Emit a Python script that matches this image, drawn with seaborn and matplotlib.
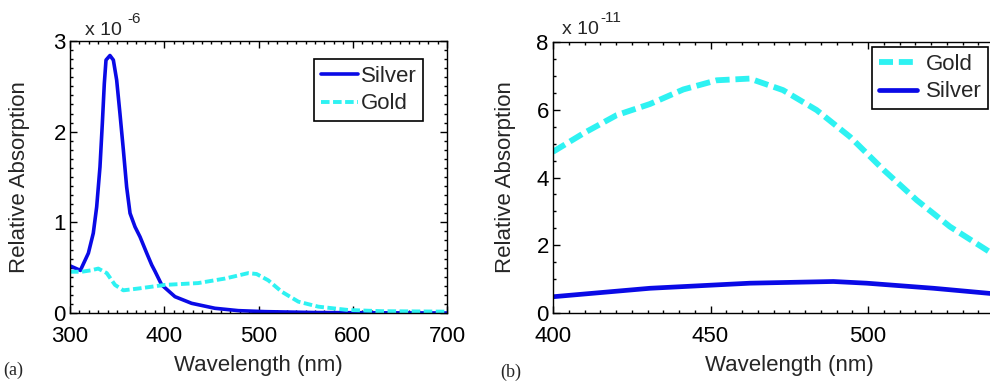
import pandas as pd
import seaborn as sns
import matplotlib.pyplot as plt
from matplotlib.ticker import MultipleLocator, FixedLocator

# Panel (a): values in units of 1e-6
wl_silver_a = [300, 311, 319.5, 324.7, 328.3, 331.8, 334.3, 336.4, 338.2,
               342.4, 346, 349.5, 353, 356.6, 360.1, 363.7, 369, 374.3,
               381.4, 386.7, 390.2, 397.3, 411.4, 429, 453.8, 478.6, 506.9,
               560, 620, 700]
silver_a = [0.52, 0.47, 0.66, 0.88, 1.17, 1.61, 2.09, 2.53, 2.79, 2.84, 2.79,
            2.57, 2.20, 1.80, 1.39, 1.10, 0.95, 0.84, 0.66, 0.53, 0.46, 0.31,
            0.18, 0.107, 0.052, 0.026, 0.015, 0.005, 0.002, 0.0]

wl_gold_a = [300, 312.4, 322, 330, 339, 347.7, 356.6, 372.5, 400.8, 436,
             464.5, 489.2, 498, 510.4, 524.6, 542.3, 563.4, 595.3, 630.7, 700]
gold_a = [0.455, 0.455, 0.47, 0.49, 0.44, 0.31, 0.25, 0.27, 0.31, 0.33, 0.38,
          0.44, 0.43, 0.36, 0.235, 0.125, 0.07, 0.033, 0.02, 0.015]

# Panel (b): values in units of 1e-11
wl_gold_b = [400, 409.6, 420.2, 430.8, 441.4, 452, 462.5, 473, 483.7, 494.3,
             505, 515.5, 526, 538.5, 545]
gold_b = [4.76, 5.3, 5.84, 6.17, 6.6, 6.87, 6.92, 6.58, 5.99, 5.2, 4.22,
          3.33, 2.55, 1.81, 1.5]

wl_silver_b = [400, 430.8, 462.5, 489, 499.6, 520.8, 538.5, 545]
silver_b = [0.48, 0.73, 0.88, 0.93, 0.88, 0.73, 0.58, 0.52]

blue = "#0a0ae6"
cyan = "#2ef2f2"

sns.set_style("ticks")
plt.rcParams["font.family"] = ["Liberation Sans", "DejaVu Sans"]
plt.rcParams["axes.linewidth"] = 1.0

fig = plt.figure(figsize=(9.9, 3.81), dpi=100)
ax1 = fig.add_axes([70 / 990, 68 / 381, 377 / 990, 272 / 381])
ax2 = fig.add_axes([553 / 990, 68 / 381, 472.5 / 990, 271 / 381])

df_sa = pd.DataFrame({"wl": wl_silver_a, "val": silver_a})
df_ga = pd.DataFrame({"wl": wl_gold_a, "val": gold_a})
df_gb = pd.DataFrame({"wl": wl_gold_b, "val": gold_b})
df_sb = pd.DataFrame({"wl": wl_silver_b, "val": silver_b})

sns.lineplot(data=df_sa, x="wl", y="val", ax=ax1, color=blue, lw=2.6,
             label="Silver", sort=False)
sns.lineplot(data=df_ga, x="wl", y="val", ax=ax1, color=cyan, lw=2.8,
             linestyle=(0, (2.2, 0.9)), label="Gold", sort=False)

sns.lineplot(data=df_gb, x="wl", y="val", ax=ax2, color=cyan, lw=4.2,
             linestyle=(0, (2.4, 1.0)), label="Gold", sort=False)
sns.lineplot(data=df_sb, x="wl", y="val", ax=ax2, color=blue, lw=3.4,
             label="Silver", sort=False)

fs = 16
for ax in (ax1, ax2):
    ax.tick_params(which="both", direction="in", top=True, right=True,
                   labelsize=fs, width=1.0, colors="black")
    ax.tick_params(which="major", length=5, pad=3)
    ax.tick_params(which="minor", length=2.5)
    ax.tick_params(axis="x", which="major", pad=9)
    ax.set_xlabel("Wavelength (nm)", fontsize=fs)
    ax.set_ylabel("Relative Absorption", fontsize=fs)
    for s in ax.spines.values():
        s.set_color("black")
    ax.grid(False)

ax1.set_xlim(300, 700)
ax1.set_ylim(0, 3)
ax1.xaxis.set_major_locator(MultipleLocator(100))
ax1.xaxis.set_minor_locator(MultipleLocator(10))
ax1.yaxis.set_major_locator(MultipleLocator(1))
ax1.yaxis.set_minor_locator(MultipleLocator(0.1))
ax1.yaxis.set_label_coords(-0.106, 0.5)
ax1.xaxis.set_label_coords(0.5, -0.155)

ax2.set_xlim(400, 550)
ax2.set_ylim(0, 8)
ax2.xaxis.set_major_locator(FixedLocator([400, 450, 500]))
ax2.xaxis.set_minor_locator(MultipleLocator(5))
ax2.yaxis.set_major_locator(MultipleLocator(2))
ax2.yaxis.set_minor_locator(MultipleLocator(0.5))
ax2.yaxis.set_label_coords(-0.079, 0.5)
ax2.xaxis.set_label_coords(0.5, -0.155)

# exponent labels above each axes
ax1.text(0.04, 1.022, "x 10", transform=ax1.transAxes, fontsize=14,
         ha="left", va="baseline")
ax1.text(0.153, 1.066, "-6", transform=ax1.transAxes, fontsize=11,
         ha="left", va="baseline")
ax2.text(0.019, 1.03, "x 10", transform=ax2.transAxes, fontsize=14,
         ha="left", va="baseline")
ax2.text(0.1, 1.074, "-11", transform=ax2.transAxes, fontsize=11,
         ha="left", va="baseline")

leg_kw = dict(fontsize=fs, frameon=True, fancybox=False, framealpha=1,
              edgecolor="black", borderpad=0.3, labelspacing=0.3,
              handlelength=1.7, loc="upper right", borderaxespad=0,
              bbox_transform=fig.transFigure)
leg1 = ax1.legend(bbox_to_anchor=(423 / 990, 1 - 59 / 381),
                  handletextpad=0.1, **leg_kw)
leg2 = ax2.legend(bbox_to_anchor=(988 / 990, 1 - 47 / 381),
                  handletextpad=0.4, **leg_kw)
for leg in (leg1, leg2):
    leg.get_frame().set_linewidth(1.2)

fig.text(3 / 990, 1 - 375 / 381, "(a)", family="Liberation Serif",
         fontsize=13)
fig.text(500 / 990, 1 - 377 / 381, "(b)", family="Liberation Serif",
         fontsize=13)

fig.savefig("out.png", dpi=100)
